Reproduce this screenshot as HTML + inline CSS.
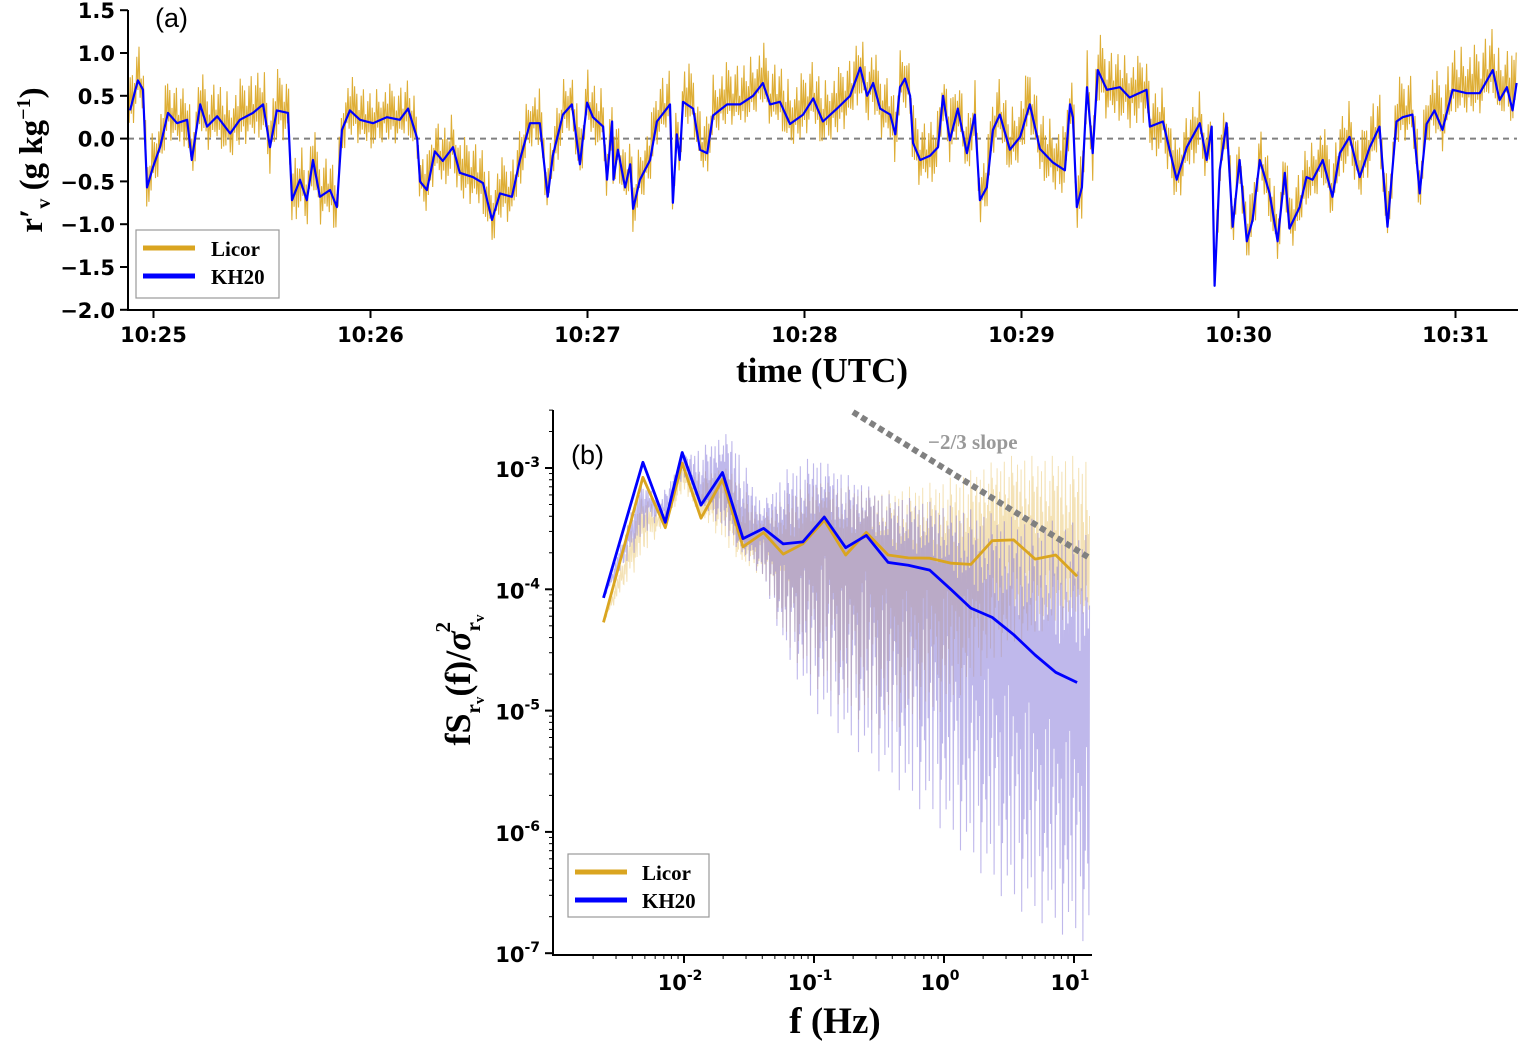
<!DOCTYPE html>
<html><head><meta charset="utf-8">
<style>
html,body{margin:0;padding:0;background:#fff;}
svg{display:block;}
.tick{font-family:"DejaVu Sans","Liberation Sans",sans-serif;font-weight:bold;font-size:21px;fill:#000;}
.serif{font-family:"Liberation Serif","DejaVu Serif",serif;font-weight:bold;fill:#000;}
</style></head>
<body>
<svg id="fig" width="1518" height="1043" viewBox="0 0 1518 1043" xmlns="http://www.w3.org/2000/svg">
<defs>
<clipPath id="clipA"><rect x="128" y="10" width="1390" height="300"/></clipPath>
<clipPath id="clipB"><rect x="553" y="410" width="540" height="545"/></clipPath>
</defs>
<g id="panelA"></g>
<g id="panelB"></g>
</svg>
<script>
// ---------- Panel (a) data: seconds relative to 10:25:00 ----------
const blueTimes = [-6.5,-4.3,-2.9,-1.8,-0.1,1.8,4.0,6.5,9.3,10.6,12.9,14.8,17.6,21.2,23.9,27.5,30.3,32.2,34.1,37.2,38.3,40.5,42.4,44.1,46.0,48.8,50.7,52.1,54.3,57.1,60.7,64.5,68.1,70.4,72.9,73.7,75.6,77.8,80.0,82.8,84.7,88.3,91.1,93.6,95.8,99.1,101.3,104.1,106.8,109.0,110.4,113.2,115.7,117.9,119.9,121.5,124.3,125.4,126.8,127.2,128.4,130.4,131.8,132.6,134.5,137.3,139.2,142.8,143.6,144.7,145.5,146.4,149.2,151.1,153.1,154.7,158.6,162.2,165.8,168.5,170.5,173.2,176.0,179.6,182.4,185.1,189.0,192.6,195.4,197.3,199.0,200.9,203.7,205.1,206.4,207.8,209.2,210.0,212.0,214.7,216.9,218.3,220.2,222.4,224.9,227.1,228.5,230.4,232.1,234.0,236.8,239.6,242.3,245.1,248.7,252.0,253.4,254.2,255.3,256.7,258.1,259.7,261.1,263.6,267.2,269.9,274.6,275.5,279.1,282.9,285.7,289.3,291.2,292.6,293.4,294.8,296.7,298.4,300.3,302.3,303.9,305.9,308.6,310.8,312.8,314.1,316.9,318.8,320.5,323.3,326.0,328.0,330.7,333.5,336.3,339.0,341.2,343.7,345.4,348.1,350.1,352.0,354.2,356.4,359.2,363.1,366.7,370.3,372.2,374.2,375.8,376.9];
const blueValues = [0.33,0.68,0.57,-0.57,-0.33,-0.1,0.3,0.18,0.22,-0.25,0.4,0.14,0.26,0.06,0.22,0.3,0.4,-0.1,0.33,0.3,-0.72,-0.48,-0.72,-0.25,-0.68,-0.6,-0.8,0.1,0.33,0.22,0.18,0.25,0.22,0.35,0.0,-0.5,-0.6,-0.15,-0.26,-0.1,-0.4,-0.45,-0.52,-0.95,-0.64,-0.68,-0.25,0.18,0.18,-0.68,-0.2,0.28,0.4,-0.3,0.42,0.25,0.14,-0.48,0.2,-0.48,-0.13,-0.57,-0.3,-0.82,-0.48,-0.25,0.2,0.4,-0.75,0.05,-0.25,0.43,0.35,-0.13,-0.17,0.27,0.4,0.4,0.5,0.65,0.4,0.43,0.17,0.28,0.47,0.2,0.35,0.5,0.83,0.5,0.65,0.35,0.28,0.05,0.6,0.7,0.5,-0.05,-0.25,-0.2,-0.1,0.5,-0.02,0.35,-0.17,0.28,-0.72,-0.57,0.1,0.28,-0.13,0.02,0.4,-0.12,-0.28,-0.37,0.4,0.25,-0.8,-0.57,0.6,-0.17,0.8,0.57,0.6,0.48,0.57,0.14,0.2,-0.48,-0.1,0.18,-0.25,0.14,-1.72,-0.37,0.18,-1.03,-0.25,-1.2,-0.95,-0.25,-0.64,-1.2,-0.4,-1.05,-0.8,-0.45,-0.48,-0.25,-0.68,-0.17,0.02,-0.45,-0.1,0.14,-1.03,0.2,0.25,0.28,-0.64,0.17,0.33,0.1,0.57,0.53,0.53,0.8,0.45,0.6,0.33,0.65];
const licorEnvTimes = [-15,0,15,30,45,60,75,90,105,120,135,150,165,180,195,210,225,240,255,270,285,300,315,330,345,360,375];
const licorUpper = [0.5,0.45,0.45,0.5,0.45,0.4,0.4,0.45,0.4,0.45,0.45,0.5,0.5,0.5,0.45,0.45,0.45,0.5,0.5,0.45,0.4,0.4,0.45,0.45,0.5,0.55,0.6];
const licorLower = [-0.35,-0.3,-0.3,-0.35,-0.35,-0.3,-0.3,-0.35,-0.3,-0.3,-0.3,-0.25,-0.25,-0.3,-0.35,-0.35,-0.3,-0.3,-0.35,-0.4,-0.35,-0.3,-0.3,-0.3,-0.3,-0.25,-0.25];
const yTicksA = [1.5,1.0,0.5,0.0,-0.5,-1.0,-1.5,-2.0];
const yTickLabelsA = ["1.5","1.0","0.5","0.0","\u22120.5","\u22121.0","\u22121.5","\u22122.0"];
const xTicksA = [0,60,120,180,240,300,360];
const xTickLabelsA = ["10:25","10:26","10:27","10:28","10:29","10:30","10:31"];

// ---------- Panel (b) data (log10 values) ----------
const specLogF = [-2.619,-2.316,-2.144,-2.014,-1.869,-1.704,-1.546,-1.388,-1.237,-1.086,-0.921,-0.756,-0.598,-0.430,-0.275,-0.110,0.055,0.206,0.371,0.536,0.701,0.859,1.024];
const kh20LogS = [-4.071,-2.953,-3.448,-2.872,-3.306,-3.037,-3.582,-3.498,-3.626,-3.609,-3.404,-3.657,-3.556,-3.778,-3.801,-3.842,-4.003,-4.155,-4.232,-4.374,-4.542,-4.684,-4.768];
const licorLogS = [-4.273,-3.077,-3.492,-2.960,-3.414,-3.094,-3.650,-3.532,-3.710,-3.626,-3.431,-3.717,-3.532,-3.717,-3.741,-3.744,-3.785,-3.795,-3.599,-3.593,-3.751,-3.717,-3.892];
const rawLogF = [-2.62,-2.0,-1.64,-1.4,-1.2,-1.0,-0.5,0,0.5,1.0,1.12];
const kh20RawHi = [-4.07,-2.9,-2.7,-3.3,-3.0,-2.9,-3.2,-3.3,-3.4,-3.45,-3.5];
const kh20RawLo = [-4.07,-3.1,-3.6,-3.9,-4.6,-5.0,-5.5,-6.0,-6.6,-6.9,-6.9];
const licorRawHi = [-4.27,-3.05,-3.0,-3.4,-3.2,-3.1,-3.2,-3.1,-2.9,-2.9,-2.9];
const licorRawLo = [-4.27,-3.2,-3.7,-3.9,-4.5,-4.8,-5.2,-5.0,-4.5,-4.2,-4.2];
const yTicksB = [-3,-4,-5,-6,-7];
const xTicksB = [-2,-1,0,1];
const xTickExpB = ["-2","-1","0","1"];
const yTickExpB = ["-3","-4","-5","-6","-7"];

const NS = "http://www.w3.org/2000/svg";
function mk(tag, attrs, parent){const e=document.createElementNS(NS,tag);for(const k in attrs)e.setAttribute(k,attrs[k]);if(parent)parent.appendChild(e);return e;}
function interp(xs, ys, x){
  if(x<=xs[0])return ys[0];
  if(x>=xs[xs.length-1])return ys[ys.length-1];
  for(let i=1;i<xs.length;i++){if(x<=xs[i]){const f=(x-xs[i-1])/(xs[i]-xs[i-1]);return ys[i-1]+f*(ys[i]-ys[i-1]);}}
}
const texture = [1,0.45,0.8,0.3,0.65,0.95,0.25,0.55,0.7,0.35,0.9,0.5,0.2,0.75,0.6,0.4,0.85];

// ===== Panel A =====
const A = document.getElementById('panelA');
const xA = t => 153.5 + t*217/60;
const yA = v => 138.6 - v*85.6;
const tFromX = x => (x-153.5)*60/217;

mk('line',{x1:128,y1:yA(0),x2:1517,y2:yA(0),stroke:'#808080','stroke-width':2,'stroke-dasharray':'6,5'},A);

{
  let d=''; let i=0;
  for(let x=128;x<=1517;x+=1.1,i++){
    const t=tFromX(x);
    const b=interp(blueTimes,blueValues,t);
    const k=texture[i%texture.length];
    const off=(i%2===0)?interp(licorEnvTimes,licorUpper,t)*k:interp(licorEnvTimes,licorLower,t)*k;
    d+=(i===0?'M':'L')+x.toFixed(1)+','+yA(b+off).toFixed(1);
  }
  const p=mk('path',{d:d,fill:'none',stroke:'#DAA520','stroke-width':1.1,'stroke-opacity':0.9,'clip-path':'url(#clipA)'},A);
  
  
}
{
  let d='';
  blueTimes.forEach((t,i)=>{d+=(i===0?'M':'L')+xA(t).toFixed(1)+','+yA(blueValues[i]).toFixed(1);});
  const p=mk('path',{d:d,fill:'none',stroke:'#0000FF','stroke-width':2.2,'stroke-linejoin':'round','clip-path':'url(#clipA)'},A);
  
  
}
mk('line',{x1:128,y1:10,x2:128,y2:311,stroke:'#000','stroke-width':2},A);
mk('line',{x1:127,y1:310,x2:1518,y2:310,stroke:'#000','stroke-width':2},A);
yTicksA.forEach((v,i)=>{
  mk('line',{x1:120,y1:yA(v),x2:128,y2:yA(v),stroke:'#000','stroke-width':2},A);
  const t=mk('text',{x:115,y:yA(v)+8,'text-anchor':'end',class:'tick'},A);
  t.textContent=yTickLabelsA[i];
  
  
});
xTicksA.forEach((v,i)=>{
  mk('line',{x1:xA(v),y1:310,x2:xA(v),y2:318,stroke:'#000','stroke-width':2},A);
  const t=mk('text',{x:xA(v),y:342,'text-anchor':'middle',class:'tick'},A);
  t.textContent=xTickLabelsA[i];
  
  
});
</script>
<script>
(function(){
const A=document.getElementById('panelA');
A.insertAdjacentHTML('beforeend',`
<text x="155" y="27" font-family="Liberation Sans, sans-serif" font-size="27">(a)</text>
<text class="serif" x="822" y="382" text-anchor="middle" font-size="35">time (UTC)</text>
<g transform="translate(42,160) rotate(-90)"><text class="serif" x="0" y="0" text-anchor="middle" font-size="33">r′<tspan font-size="20" dy="8">v</tspan><tspan dy="-8">  (g kg</tspan><tspan font-size="20" dy="-12">−1</tspan><tspan dy="12">)</tspan></text></g>
<g>
<rect x="136" y="230" width="143" height="68" fill="#fff" stroke="#999" stroke-width="1.2"/>
<line x1="143" y1="248" x2="195" y2="248" stroke="#DAA520" stroke-width="5"/>
<text class="serif" x="211" y="256" font-size="21">Licor</text>
<line x1="143" y1="276" x2="195" y2="276" stroke="#0000FF" stroke-width="5"/>
<text class="serif" x="211" y="284" font-size="21">KH20</text>
</g>`);
})();
</script>
<script>
const B=document.getElementById('panelB');
const xB = lf => 684 + (lf+2)*130;
const yB = ls => 468 - (ls+3)*121.3;

function rawZig(hiArr, loArr, center, color, op, sw){
  let d=''; let i=0;
  const x0=xB(specLogF[0]), x1=xB(1.12);
  for(let x=x0;x<=x1;x+=0.6,i++){
    const lf=-2+(x-684)/130;
    const c=interp(specLogF,center,lf);
    const k=texture[i%texture.length];
    const env=(i%2===0)?interp(rawLogF,hiArr,lf):interp(rawLogF,loArr,lf);
    d+=(i===0?'M':'L')+x.toFixed(1)+','+yB(c+(env-c)*k).toFixed(1);
  }
  return mk('path',{d:d,fill:'none',stroke:color,'stroke-width':sw,'stroke-opacity':op,'clip-path':'url(#clipB)'},B);
}
const pl=rawZig(licorRawHi,licorRawLo,licorLogS,'#EBCB7A',0.55,1);


const pk=rawZig(kh20RawHi,kh20RawLo,kh20LogS,'#7F72D8',0.5,1.1);



function specLine(vals,color){
  let d='';
  specLogF.forEach((lf,i)=>{d+=(i===0?'M':'L')+xB(lf).toFixed(1)+','+yB(vals[i]).toFixed(1);});
  return mk('path',{d:d,fill:'none',stroke:color,'stroke-width':2.8,'stroke-linejoin':'round'},B);
}
const sl=specLine(licorLogS,'#DAA520');


const sk=specLine(kh20LogS,'#0000FF');



mk('line',{x1:553,y1:410,x2:553,y2:956,stroke:'#000','stroke-width':2},B);
mk('line',{x1:552,y1:955,x2:1092,y2:955,stroke:'#000','stroke-width':2},B);
for(let e=-7;e<=-3;e++){
  for(let m=2;m<=9;m++){const ls=e+Math.log10(m);const y=yB(ls);if(y>=410)mk('line',{x1:549,y1:y,x2:553,y2:y,stroke:'#000','stroke-width':1},B);}
}
for(let e=-3;e<=1;e++){
  for(let m=2;m<=9;m++){const x=xB(e+Math.log10(m));if(x>=553&&x<=1092)mk('line',{x1:x,y1:955,x2:x,y2:959,stroke:'#000','stroke-width':1},B);}
}
yTicksB.forEach((v,i)=>{
  mk('line',{x1:545,y1:yB(v),x2:553,y2:yB(v),stroke:'#000','stroke-width':2},B);
  const t=mk('text',{x:540,y:yB(v)+9,'text-anchor':'end',class:'tick'},B);
  t.setAttribute('font-size','23');
  t.innerHTML='10<tspan font-size="14" dy="-10">'+yTickExpB[i]+'</tspan>';
  
  
});
xTicksB.forEach((v,i)=>{
  mk('line',{x1:xB(v),y1:955,x2:xB(v),y2:963,stroke:'#000','stroke-width':2},B);
  const t=mk('text',{x:xB(v)-4,y:990,'text-anchor':'middle',class:'tick'},B);
  t.setAttribute('font-size','23');
  t.innerHTML='10<tspan font-size="14" dy="-10">'+xTickExpB[i]+'</tspan>';
  
  
});
B.insertAdjacentHTML('beforeend',`
<line x1="853" y1="412" x2="1088" y2="557" stroke="#808080" stroke-width="6" stroke-dasharray="6,4"/>
<text x="928" y="449" font-family="Liberation Serif, serif" font-weight="bold" font-size="21" fill="#999">−2/3 slope</text>
<text x="571" y="464" font-family="Liberation Sans, sans-serif" font-size="27">(b)</text>
<text class="serif" x="835" y="1033" text-anchor="middle" font-size="37">f (Hz)</text>
<g transform="translate(470,680) rotate(-90)"><text class="serif" x="0" y="0" text-anchor="middle" font-size="36">fS<tspan font-size="21" dy="10">r</tspan><tspan font-size="15" dy="4">v</tspan><tspan dy="-14">(f)/</tspan><tspan font-style="italic">σ</tspan><tspan font-size="21" dy="10">r</tspan><tspan font-size="15" dy="4">v</tspan><tspan font-size="21" dy="-34" dx="-18">2</tspan></text></g>
<g>
<rect x="568" y="854" width="141" height="63" fill="#fff" stroke="#999" stroke-width="1.2"/>
<line x1="575" y1="872" x2="627" y2="872" stroke="#DAA520" stroke-width="5"/>
<text class="serif" x="642" y="880" font-size="21">Licor</text>
<line x1="575" y1="900" x2="627" y2="900" stroke="#0000FF" stroke-width="5"/>
<text class="serif" x="642" y="908" font-size="21">KH20</text>
</g>`);
</script>
</body></html>
